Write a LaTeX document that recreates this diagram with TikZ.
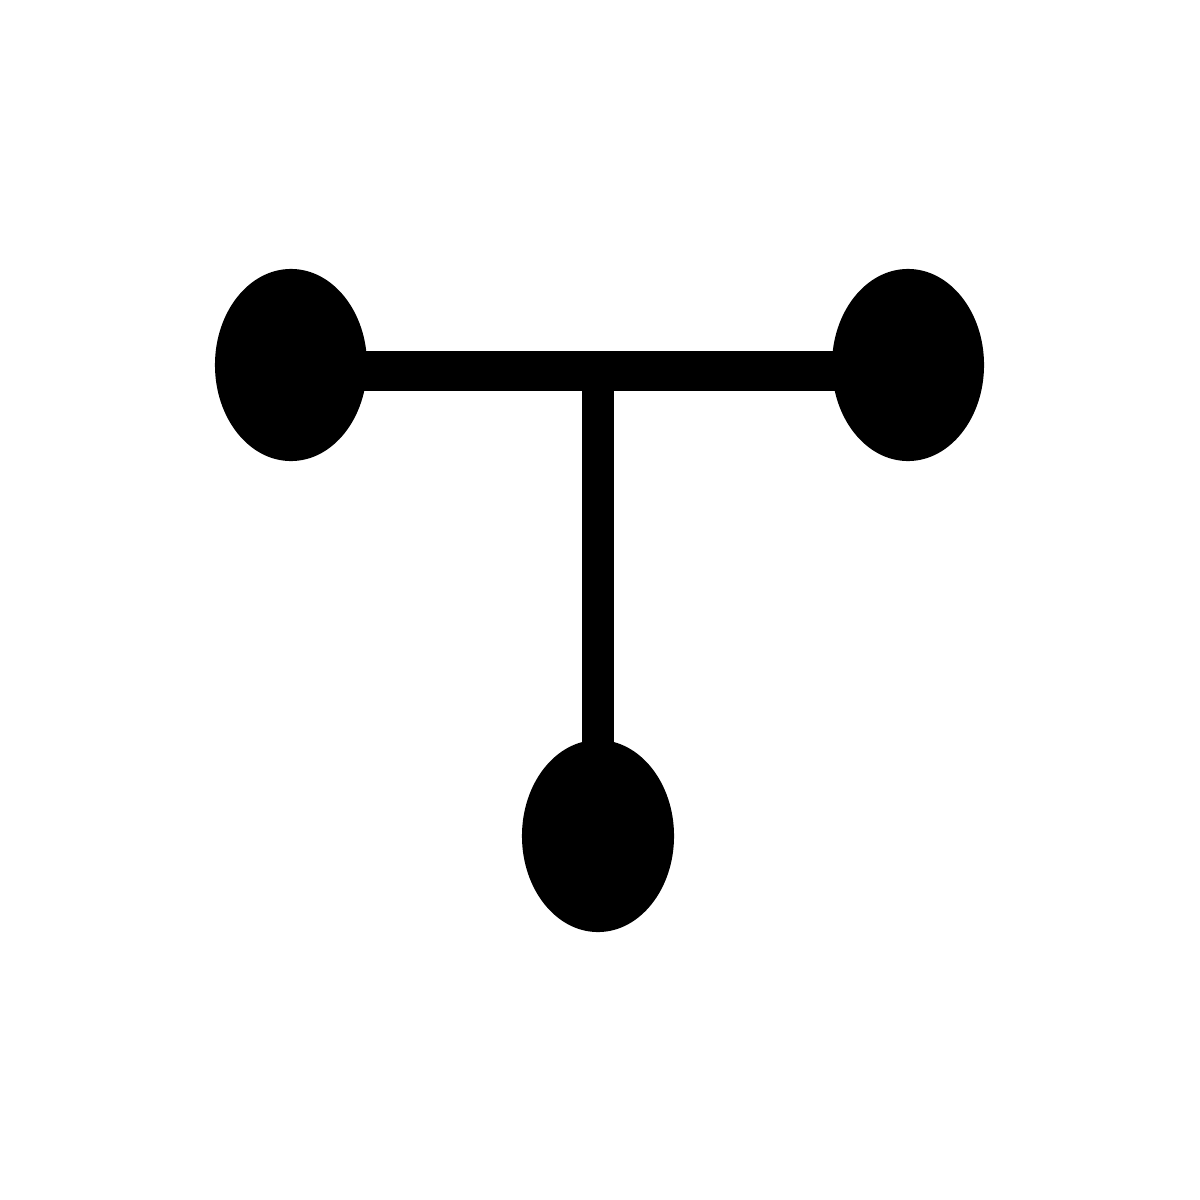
\documentclass[tikz,border=0pt]{standalone}
\usetikzlibrary{shapes.geometric}
\begin{document}
\begin{tikzpicture}[x=0.01cm,y=-0.01cm,
  bob/.style={ellipse,fill=black,draw=none,inner sep=0pt,minimum width=1.52cm,minimum height=1.92cm},
  hbar/.style={line width=0.40cm,black},
  vbar/.style={line width=0.32cm,black}]
\useasboundingbox (0,0) rectangle (1200,1200);
\node[bob] (L) at (291,365) {};
\node[bob] (R) at (908,365) {};
\node[bob] (B) at (598,836) {};
\coordinate (J) at (598,371);
\draw[hbar] ([yshift=-0.06cm]L.center) -- ([yshift=-0.06cm]R.center);
\draw[vbar] (J) -- (B.center);
\end{tikzpicture}
\end{document}
